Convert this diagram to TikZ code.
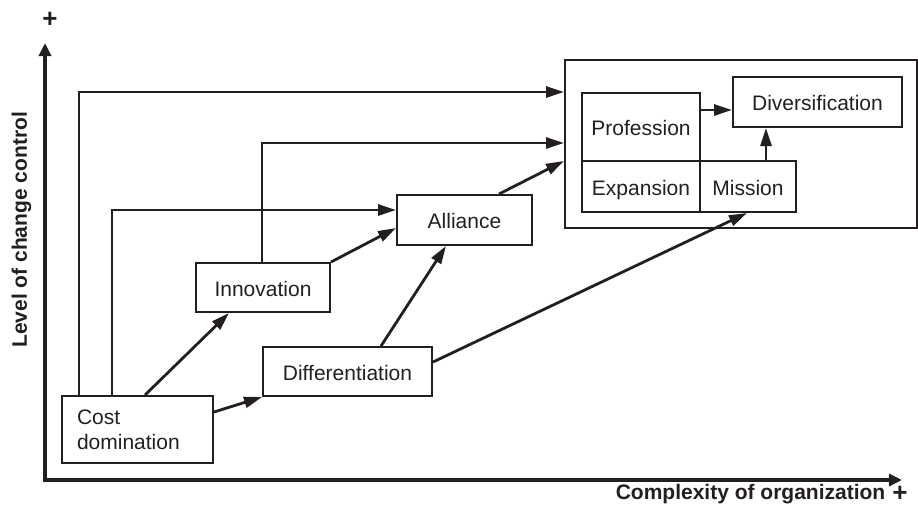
\documentclass[tikz,border=0pt]{standalone}
\usepackage{fontspec}
\setmainfont{Liberation Sans}
\usetikzlibrary{arrows.meta}
\definecolor{ink}{HTML}{231F20}
\begin{document}
\begin{tikzpicture}[x=1pt,y=-1pt,
  every node/.style={font=\fontsize{21}{25}\selectfont, text=ink},
  box/.style={draw=ink, line width=2pt, inner sep=0pt},
  onebox/.style={box, text height=17pt, text depth=0pt},
  arr/.style={draw=ink, line width=2.8pt, -{Triangle[length=18pt,width=11pt]}},
  axisline/.style={draw=ink, line width=4pt, {Triangle[length=13pt,width=12pt]}-{Triangle[length=13pt,width=12pt]}},
  axislabel/.style={font=\fontsize{21}{25}\selectfont\bfseries, inner sep=0pt},
  plussign/.style={font=\fontsize{26}{30}\selectfont\bfseries, inner sep=0pt}]

\useasboundingbox (0,0) rectangle (918,507);

% axes
\coordinate (ytip) at (45,43);
\coordinate (xtip) at (902,480);
\draw[axisline] (ytip) |- (xtip);
\node[plussign] (yplus) at (50,20) {+};
\node[plussign] (xplus) at (900,494) {+};
\node[axislabel, rotate=90, anchor=base west] (ylabel) at (27,348) {Level of change control};
\node[axislabel, anchor=base east] (xlabel) at (885.5,499) {Complexity of organization};

% strategy boxes
\node[box, minimum width=352pt, minimum height=168pt] (outer) at (741,144) {};
\node[box, minimum width=151pt, minimum height=67pt, inner xsep=15pt, text width=121pt, align=left] (cost) at (137.5,429.5) {Cost\\domination};
\node[onebox, minimum width=134pt, minimum height=49pt] (innov) at (263,287.5) {Innovation};
\node[onebox, minimum width=169pt, minimum height=49pt] (diff) at (347.5,371.5) {Differentiation};
\node[onebox, minimum width=135pt, minimum height=50pt] (alliance) at (464.5,220) {Alliance};
\node[onebox, minimum width=118pt, minimum height=68pt] (prof) at (641,127) {Profession};
\node[onebox, minimum width=118pt, minimum height=51pt] (expan) at (641,186.5) {Expansion};
\node[onebox, minimum width=96pt, minimum height=51pt] (mission) at (748,186.5) {Mission};
\node[onebox, minimum width=169pt, minimum height=50pt] (divers) at (817.5,102) {Diversification};

% connectors
\draw[arr] ([xshift=18pt]cost.north west) |- ([yshift=-33pt]outer.north west);
\draw[arr] ([xshift=51pt]cost.north west) |- ([yshift=10pt]alliance.west);
\draw[arr] ([xshift=67pt]innov.north west) |- ([yshift=-84pt]outer.north west);
\draw[arr] ([xshift=84pt]cost.north west) -- ([xshift=34pt]innov.south west);
\draw[arr] ([yshift=-17pt]cost.north east) -- (diff.south west);
\draw[arr] (innov.north east) -- ([yshift=-8pt]alliance.west);
\draw[arr] ([xshift=119pt]diff.north west) -- ([xshift=50pt]alliance.south west);
\draw[arr] ([yshift=-16pt]diff.north east) -- ([xshift=48pt]mission.south west);
\draw[arr] ([xshift=-34pt]alliance.north east) -- ([yshift=-102pt]outer.north west);
\draw[arr] ([yshift=-18pt]prof.north east) -- ([yshift=-18pt]prof.north east -| divers.west);
\draw[arr] ([xshift=67pt]mission.north west) -- ([xshift=67pt]mission.north west |- divers.south);
\end{tikzpicture}
\end{document}
